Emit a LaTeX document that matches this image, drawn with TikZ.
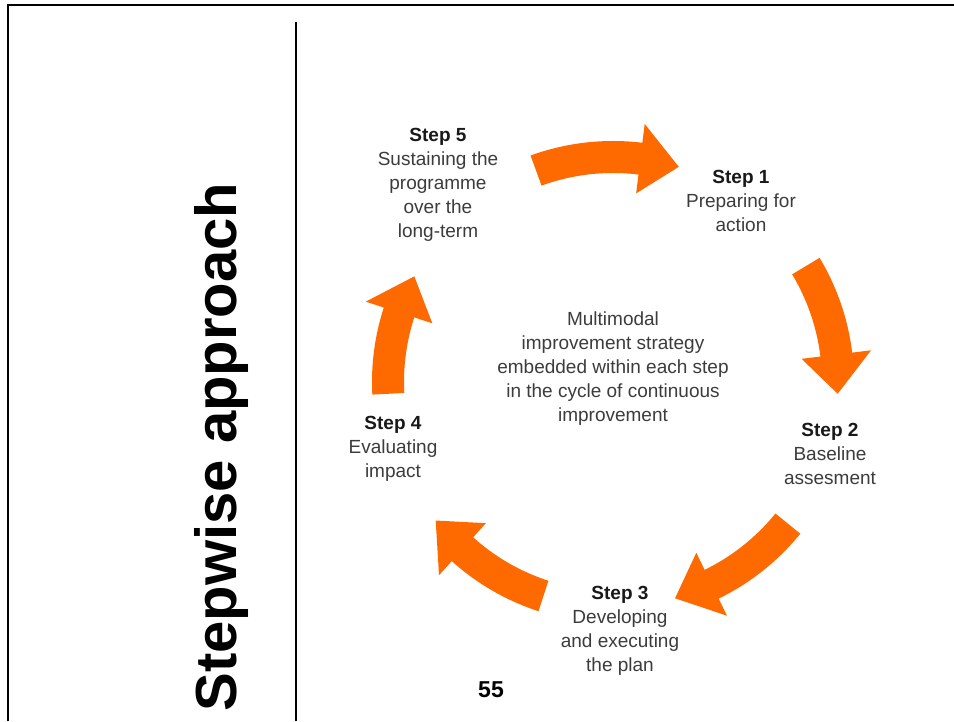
\documentclass[tikz,border=0pt]{standalone}
\usepackage{fontspec}
\setmainfont{Liberation Sans}
\usetikzlibrary{calc}
\usetikzlibrary{positioning}

\definecolor{cycleorange}{RGB}{255,106,0}
\definecolor{bodygray}{RGB}{60,60,60}
\definecolor{headblack}{RGB}{25,25,25}

\tikzset{
  steptext/.style={align=center, text=bodygray, font=\fontsize{19}{24}\selectfont, inner sep=0},
  cyclearrow/.style={fill=cycleorange, draw=none}
}
\newcommand{\stephead}[1]{\textcolor{headblack}{\textbf{#1}}}

\begin{document}
\begin{tikzpicture}[x=1pt,y=1pt]
\useasboundingbox (0,0) rectangle (954,721);
\fill[white] (0,0) rectangle (954,721);
% frame and divider
\draw[black, line width=2.5] (8,0) -- (8,716) -- (954,716);
\draw[black, line width=2] (296,0) -- (296,699);
\node[rotate=90, font=\fontsize{58}{60}\selectfont\bfseries, inner sep=0] (title) at (222,274) {Stepwise approach};
\node[font=\fontsize{23}{24}\selectfont\bfseries, inner sep=0] (page) at (491,31) {55};

% the five curved arrows round the centre
\begin{scope}[shift={(613,339)}]
\foreach \a/\b in {110/73, 31/-3, -39/-74, -108/-142, 183/152}
  \fill[cyclearrow] (\a:241) arc[start angle=\a, end angle=\b+10, radius=241]
    -- (\b+10:260) -- (\b:225) -- (\b+10:190) -- (\b+10:209)
    arc[start angle=\b+10, end angle=\a, radius=209] -- cycle;
\end{scope}

\node[steptext] (centre) at (613,352) {Multimodal\\improvement strategy\\embedded within each step\\in the cycle of continuous\\improvement};
\node[steptext] (step1) at (741,520) {\stephead{Step 1}\\Preparing for\\action};
\node[steptext] (step2) at (830,267) {\stephead{Step 2}\\Baseline\\assesment};
\node[steptext] (step3) at (620,90) {\stephead{Step 3}\\Developing\\and executing\\the plan};
\node[steptext] (step4) at (393,272) {\stephead{Step 4}\\Evaluating\\impact};
\node[steptext] (step5) at (438,536) {\stephead{Step 5}\\Sustaining the\\programme\\over the\\long-term};
\end{tikzpicture}
\end{document}
